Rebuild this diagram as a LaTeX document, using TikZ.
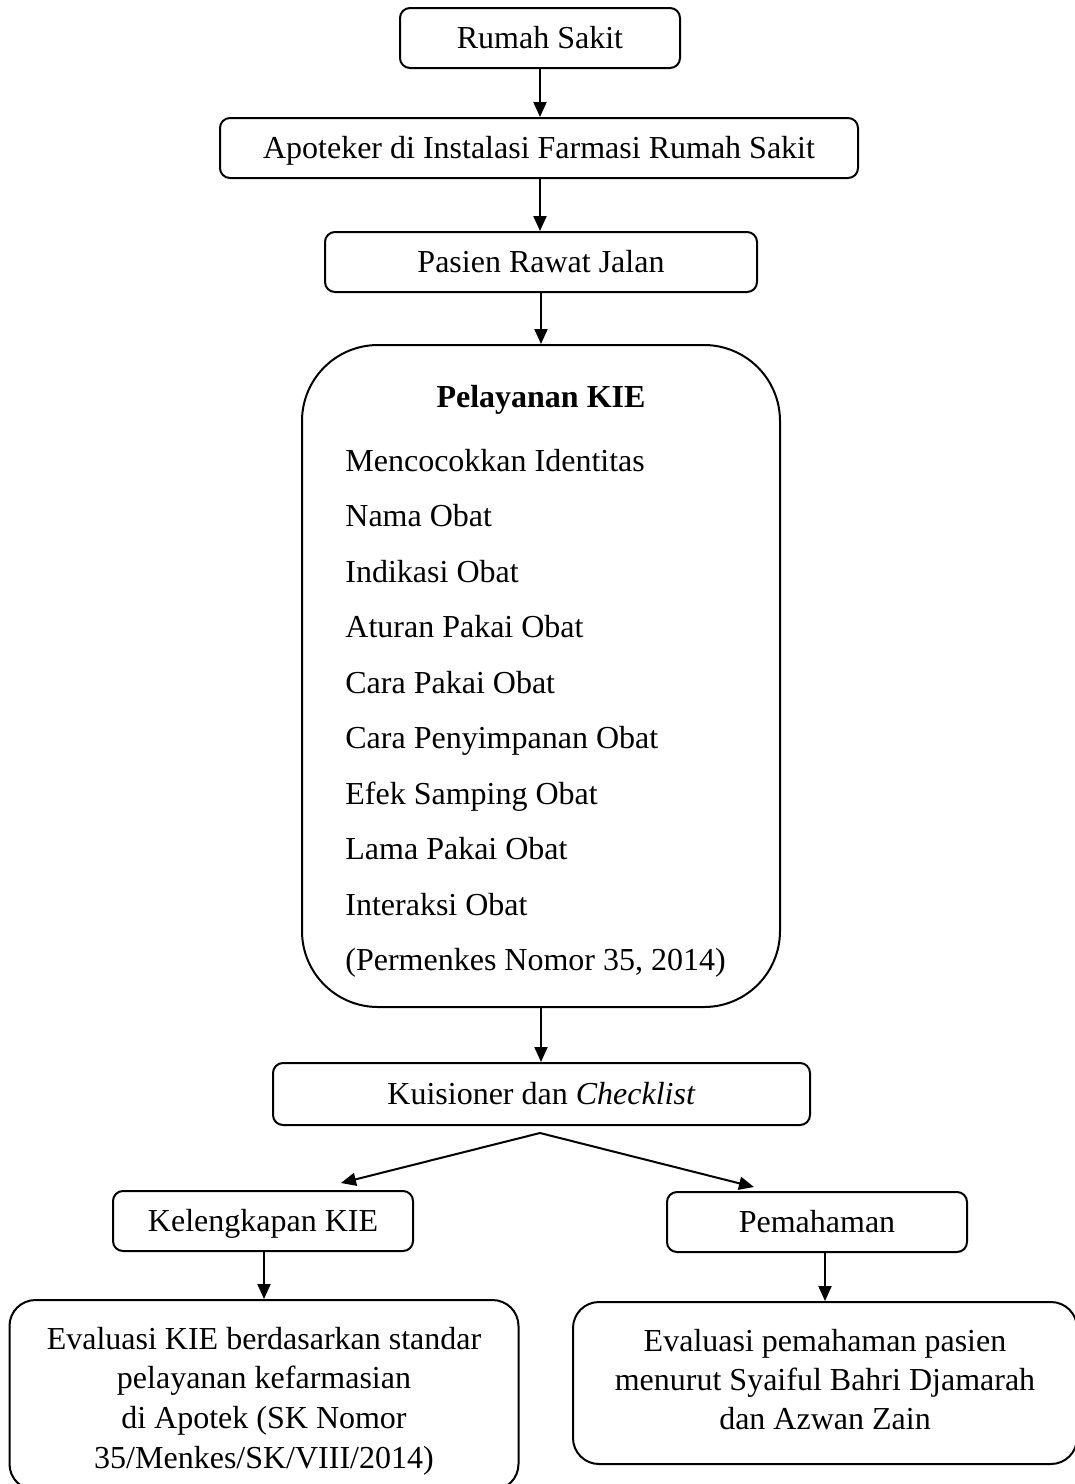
\documentclass[tikz,border=0pt]{standalone}
\usepackage{fontspec}
\setmainfont{Liberation Serif}
\usetikzlibrary{arrows.meta}
\begin{document}
\begin{tikzpicture}[x=0.5pt,y=-0.5pt,
  every node/.style={font=\fontsize{16}{19.5}\selectfont, inner sep=0pt},
  box/.style={draw, line width=1pt, rounded corners=5pt, text height=12pt, text depth=1.4pt},
  bigbox/.style={draw, line width=1pt, rounded corners=38pt},
  evbox/.style={draw, line width=1pt, rounded corners=13pt},
  arr/.style={line width=1pt, -{Triangle[length=7.5pt,width=6.5pt]}}]
\useasboundingbox (0,0) rectangle (1075,1484);
\node[box, minimum width=140pt, minimum height=30pt] (rs) at (540,38) {Rumah Sakit};
\node[box, minimum width=319pt, minimum height=30pt] (ap) at (539,148) {Apoteker di Instalasi Farmasi Rumah Sakit};
\node[box, minimum width=216pt, minimum height=30pt] (pa) at (541,262) {Pasien Rawat Jalan};
\node[bigbox, minimum width=239pt, minimum height=331pt] (kie) at (541,676) {};
\node[anchor=base, font=\fontsize{16}{19.5}\selectfont\bfseries] (kietitle) at (541,407) {Pelayanan KIE};
\foreach \t [count=\i] in {Mencocokkan Identitas, Nama Obat, Indikasi Obat, Aturan Pakai Obat, Cara Pakai Obat, Cara Penyimpanan Obat, Efek Samping Obat, Lama Pakai Obat, Interaksi Obat, {(Permenkes Nomor 35, 2014)}}
  \node[anchor=base west] (item\i) at (345,{471+55.5*(\i-1)}) {\t};
\node[box, minimum width=268.5pt, minimum height=31pt] (ku) at (541.5,1094) {Kuisioner dan \textit{Checklist}};
\node[box, minimum width=150pt, minimum height=30pt] (kl) at (263,1221) {Kelengkapan KIE};
\node[box, minimum width=150pt, minimum height=30pt] (pe) at (817,1222) {Pemahaman};
\node[evbox, minimum width=254.5pt, minimum height=95pt] (ev1) at (264,1395) {};
\foreach \t [count=\i] in {Evaluasi KIE berdasarkan standar, pelayanan kefarmasian, di Apotek (SK Nomor, 35/Menkes/SK/VIII/2014)}
  \node[anchor=base] (evl\i) at (264,{1349+39.7*(\i-1)}) {\t};
\node[evbox, minimum width=252pt, minimum height=81pt] (ev2) at (825,1383) {};
\foreach \t [count=\i] in {Evaluasi pemahaman pasien, menurut Syaiful Bahri Djamarah, dan Azwan Zain}
  \node[anchor=base] (evr\i) at (825,{1351+39*(\i-1)}) {\t};
\coordinate (split) at (540,1133);
\coordinate (tipL) at (341,1183);
\coordinate (tipR) at (754,1187);
\draw[arr] (rs.south) -- (ap.north -| rs.south);
\draw[arr] (ap.south -| rs.south) -- (pa.north -| rs.south);
\draw[arr] (pa.south) -- (kie.north);
\draw[arr] (kie.south) -- (ku.north -| kie.south);
\draw[arr] (split) -- (tipL);
\draw[arr] (split) -- (tipR);
\draw[arr] (kl.south -| ev1.north) -- (ev1.north);
\draw[arr] (pe.south -| ev2.north) -- (ev2.north);
\end{tikzpicture}
\end{document}
